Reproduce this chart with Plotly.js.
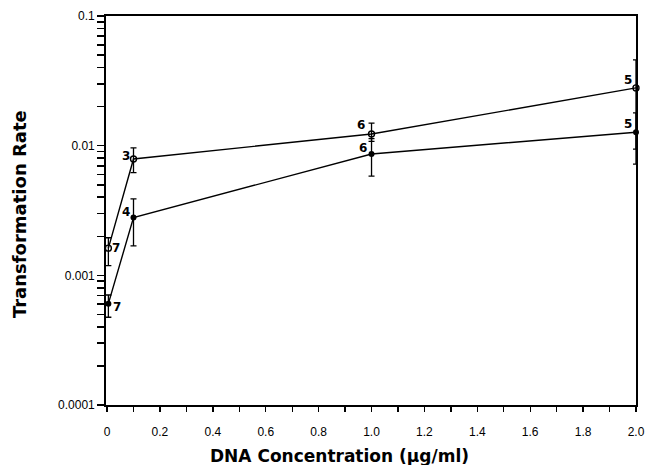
<!DOCTYPE html>
<html><head><meta charset="utf-8">
<script src="https://cdn.plot.ly/plotly-3.0.1.min.js"></script>
<style>html,body{margin:0;padding:0;background:#fff}</style>
</head><body>
<div id="chart" style="width:646px;height:465px"></div>
<script>
// DNA concentration (ug/ml)
const conc = [0.005, 0.1, 1.0, 2.0];
// Open circles
const openRate = [0.00162, 0.0079, 0.0123, 0.0279];
const openErrPlus = [0.00033, 0.0017, 0.0026, 0.018];
const openErrMinus = [0.00043, 0.0017, 0.0015, 0.0185];
const openN = ["7", "3", "6", "5"];
// Filled circles
const filledRate = [0.000605, 0.00279, 0.00863, 0.0127];
const filledErrPlus = [0.0001, 0.0011, 0.0027, 0.0052];
const filledErrMinus = [0.00013, 0.0011, 0.0028, 0.0055];
const filledN = ["7", "4", "6", "5"];
// Axis labels
const xTickVals = [0, 0.2, 0.4, 0.6, 0.8, 1.0, 1.2, 1.4, 1.6, 1.8, 2.0];
const xTickText = ["0", "0.2", "0.4", "0.6", "0.8", "1.0", "1.2", "1.4", "1.6", "1.8", "2.0"];
const yTickVals = [0.0001, 0.001, 0.01, 0.1];
const yTickText = ["0.0001", "0.001", "0.01", "0.1"];
const minorMult = [2, 3, 4, 5, 6, 7, 8, 9];

// y ticks: decades labelled, 2..9 multiples unlabelled
const yAllVals = [], yAllText = [];
yTickVals.forEach((d, i) => {
  yAllVals.push(d); yAllText.push(yTickText[i]);
  if (i < yTickVals.length - 1) minorMult.forEach(m => { yAllVals.push(d * m); yAllText.push(""); });
});

const black = "#000";
const traces = [
  {x: conc, y: openRate, mode: "lines+markers", type: "scatter",
   line: {color: black, width: 1.4},
   marker: {symbol: "circle-open", size: 6, color: black, line: {width: 1.4}},
   error_y: {type: "data", array: openErrPlus, arrayminus: openErrMinus, symmetric: false, color: black, thickness: 1.3, width: 3},
   cliponaxis: false},
  {x: conc, y: filledRate, mode: "lines+markers", type: "scatter",
   line: {color: black, width: 1.4},
   marker: {symbol: "circle", size: 6, color: black},
   error_y: {type: "data", array: filledErrPlus, arrayminus: filledErrMinus, symmetric: false, color: black, thickness: 1.3, width: 3},
   cliponaxis: false}
];

const labelFont = {family: "DejaVu Sans", size: 12, color: black, weight: "bold"};
const titleFont = {family: "DejaVu Sans", size: 17, weight: "bold", color: black};
const annotations = [];
const openOff = [[8, 0], [-8, 3], [-11, 9], [-8, 8]];
const filledOff = [[9, -3], [-8, 6], [-9, 6], [-8, 8]];
conc.forEach((c, i) => {
  annotations.push({x: c, y: Math.log10(openRate[i]), text: openN[i], showarrow: false,
    xshift: openOff[i][0], yshift: openOff[i][1], font: labelFont});
  annotations.push({x: c, y: Math.log10(filledRate[i]), text: filledN[i], showarrow: false,
    xshift: filledOff[i][0], yshift: filledOff[i][1], font: labelFont});
});
annotations.push({xref: "paper", yref: "paper", x: 0.4415, y: 0, yshift: -51, yanchor: "middle", xanchor: "center",
  text: "DNA Concentration (μg/ml)", showarrow: false, font: titleFont});
annotations.push({xref: "paper", yref: "paper", x: -0.164, y: 0.491, xanchor: "center", yanchor: "middle",
  textangle: -90, text: "Transformation Rate", showarrow: false, font: {...titleFont, size: 18}});

const layout = {
  width: 646, height: 465,
  margin: {l: 106, r: 10, t: 16, b: 60},
  paper_bgcolor: "#fff", plot_bgcolor: "#fff",
  showlegend: false,
  font: {family: "Liberation Sans", color: black, size: 12},
  xaxis: {
    range: [-0.004, 2.0], showgrid: false, zeroline: false,
    showline: true, linecolor: black, linewidth: 1.8, mirror: true,
    ticks: "outside", ticklen: 5, tickwidth: 1.3, tickcolor: black,
    tickmode: "array", tickvals: xTickVals, ticktext: xTickText,
    ticklabelstandoff: 10,
    minor: {ticks: "outside", ticklen: 5, tickwidth: 1.3, tickcolor: black, dtick: 0.1, tick0: 0, showgrid: false},
    tickfont: {size: 12}
  },
  yaxis: {
    type: "log", range: [-4, -1], showgrid: false, zeroline: false,
    showline: true, linecolor: black, linewidth: 1.8, mirror: true,
    ticks: "outside", ticklen: 7, tickwidth: 1.6, tickcolor: black,
    tickmode: "array", tickvals: yAllVals, ticktext: yAllText,
    tickfont: {size: 12}
  },
  annotations: annotations
};
Plotly.newPlot("chart", traces, layout, {displayModeBar: false, staticPlot: true});
</script>
</body></html>
